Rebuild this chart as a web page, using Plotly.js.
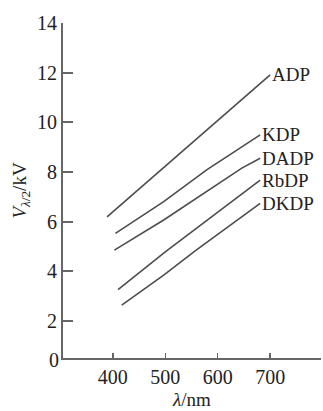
<!DOCTYPE html>
<html>
<head>
<meta charset="utf-8">
<script src="https://cdn.plot.ly/plotly-3.0.1.min.js"></script>
<style>html,body{margin:0;padding:0;background:#fff;}#chart{width:323px;height:411px;}</style>
</head>
<body>
<div id="chart"></div>
<script>
// Data
const seriesNames = ["ADP", "KDP", "DADP", "RbDP", "DKDP"];
const adpX = [389, 496, 668, 700];
const adpY = [6.19, 8.15, 11.31, 11.91];
const kdpX = [405, 497, 579, 681];
const kdpY = [5.52, 6.80, 8.08, 9.49];
const dadpX = [403, 497, 646, 681];
const dadpY = [4.85, 6.06, 8.15, 8.55];
const rbdpX = [410, 500, 681];
const rbdpY = [3.26, 4.78, 7.67];
const dkdpX = [417, 497, 557, 681];
const dkdpY = [2.63, 3.84, 4.82, 6.73];
const xTicks = [400, 500, 600, 700];
const yTicks = [2, 4, 6, 8, 10, 12, 14];

const allX = [adpX, kdpX, dadpX, rbdpX, dkdpX];
const allY = [adpY, kdpY, dadpY, rbdpY, dkdpY];

const font = {family: "Liberation Serif, DejaVu Serif, serif", size: 19, color: "#222"};
const tickFont = {family: "Liberation Serif, DejaVu Serif, serif", size: 20, color: "#222"};

const traces = seriesNames.map((n, i) => ({
  x: allX[i], y: allY[i], name: n, type: "scatter", mode: "lines",
  line: {color: "#4d4d4d", width: 1.6}, showlegend: false, hoverinfo: "skip"
}));

const annotations = seriesNames.map((n, i) => ({
  x: allX[i][allX[i].length - 1], y: allY[i][allY[i].length - 1],
  xref: "x", yref: "y", text: n, showarrow: false,
  xanchor: "left", yanchor: "middle", xshift: 0, font: font
}));
annotations.push({
  x: 0, y: 0, xref: "paper", yref: "paper", text: "0", showarrow: false,
  xanchor: "right", yanchor: "middle", xshift: -2, yshift: -2, font: tickFont
});

const layout = {
  width: 323, height: 411,
  margin: {l: 63, r: 2, t: 23, b: 53},
  paper_bgcolor: "#fff", plot_bgcolor: "#fff",
  font: font,
  xaxis: {
    range: [305, 797], tickvals: xTicks, ticktext: xTicks.map(String),
    ticks: "inside", ticklen: 5, tickwidth: 1.5, tickcolor: "#666",
    showline: true, linecolor: "#666", linewidth: 2,
    showgrid: false, zeroline: false, automargin: false,
    tickfont: tickFont,
    title: {text: "<i>λ</i>/nm", font: font, standoff: 6}
  },
  yaxis: {
    range: [0.5, 14], tickvals: yTicks, ticktext: yTicks.map(String),
    ticks: "inside", ticklen: 10, tickwidth: 2, tickcolor: "#666",
    showline: true, linecolor: "#666", linewidth: 2,
    showgrid: false, zeroline: false, automargin: false,
    tickfont: tickFont,
    title: {text: "<i>V</i><sub><i>λ</i>/2</sub>/kV", font: font, standoff: 5}
  },
  annotations: annotations
};

Plotly.newPlot("chart", traces, layout, {staticPlot: true, displayModeBar: false});
</script>
</body>
</html>
